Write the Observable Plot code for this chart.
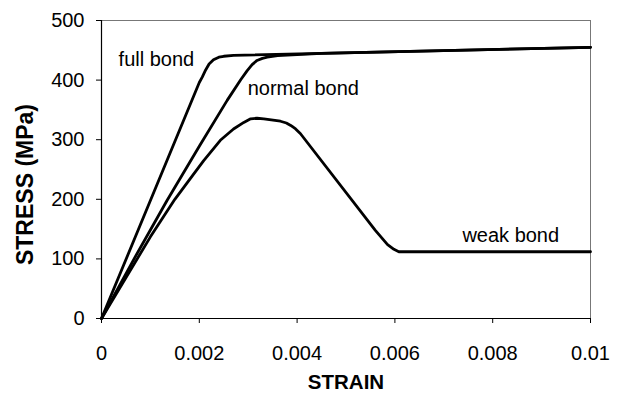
<!DOCTYPE html>
<html>
<head>
<meta charset="utf-8">
<script src="https://cdn.jsdelivr.net/npm/d3@7"></script>
<script src="https://cdn.jsdelivr.net/npm/@observablehq/plot@0.6"></script>
<style>
  html, body { margin: 0; padding: 0; background: #fff; }
  #chart { width: 622px; height: 394px; }
</style>
</head>
<body>
<div id="chart"></div>
<script>
// Series: strain values and stress values (MPa)
const fullStrain = [0, 0.002, 0.00206, 0.00213, 0.0022, 0.00229, 0.0024, 0.0025, 0.0027, 0.01];
const fullStress = [0, 396, 405, 417, 427, 434, 438.5, 440, 441.5, 455];

const normalStrain = [0, 0.0007, 0.00134, 0.002, 0.00257, 0.00285, 0.00298, 0.00308, 0.00318, 0.00329, 0.00339, 0.0036, 0.0045, 0.01];
const normalStress = [0, 105, 198, 289, 366, 401, 416, 426, 433, 436.5, 438.5, 441, 445, 455];

const weakStrain = [0, 0.001, 0.0015, 0.0018, 0.00209, 0.00243, 0.0027, 0.00291, 0.00305, 0.00318, 0.00332, 0.00366, 0.00378, 0.00387, 0.00397, 0.00407, 0.0056, 0.00585, 0.00598, 0.00608, 0.01];
const weakStress = [0, 137, 200, 233, 265, 299, 318, 329, 335, 336, 335, 331, 328, 324, 318, 310, 148, 124, 116, 112, 112];

const seriesNames = ["full bond", "normal bond", "weak bond"];
const labelStrain = [0.00035, 0.00299, 0.00738];
const labelStress = [435, 386, 139];

const xTicks = [0, 0.002, 0.004, 0.006, 0.008, 0.01];
const xTickLabels = ["0", "0.002", "0.004", "0.006", "0.008", "0.01"];
const yTicks = [0, 100, 200, 300, 400, 500];
const yTickLabels = ["0", "100", "200", "300", "400", "500"];

const xTitle = "STRAIN";
const yTitle = "STRESS (MPa)";

const table = [];
[[fullStrain, fullStress], [normalStrain, normalStress], [weakStrain, weakStress]].forEach(([xs, ys], i) => {
  xs.forEach((x, j) => table.push({bond: seriesNames[i], strain: x, stress: ys[j]}));
});
const labels = seriesNames.map((name, i) => ({name, strain: labelStrain[i], stress: labelStress[i]}));

const font = "'Liberation Sans', Arial, sans-serif";

const chart = Plot.plot({
  width: 622,
  height: 394,
  marginLeft: 101,
  marginRight: 32,
  marginTop: 20,
  marginBottom: 76,
  style: {fontFamily: font, fontSize: "20px", color: "#000", background: "#fff"},
  x: {domain: [0, 0.01]},
  y: {domain: [0, 500]},
  marks: [
    Plot.frame({stroke: "#777", strokeWidth: 1}),
    Plot.axisX({ticks: xTicks, tickFormat: (d, i) => xTickLabels[i], tickSize: 5, tickPadding: 22, label: null, fontSize: 20}),
    Plot.axisY({ticks: yTicks, tickFormat: (d, i) => yTickLabels[i], tickSize: 5, tickPadding: 12, label: null, fontSize: 20}),
    Plot.ruleX([0], {stroke: "#000", strokeWidth: 1.2}),
    Plot.ruleY([0], {stroke: "#000", strokeWidth: 1.2}),
    Plot.line(table, {x: "strain", y: "stress", z: "bond", curve: "linear", stroke: "#000", strokeWidth: 2.8, strokeLinejoin: "round"}),
    Plot.text(labels, {x: "strain", y: "stress", text: "name", textAnchor: "start", lineAnchor: "middle", fontSize: 20, fill: "#000"}),
    Plot.text([xTitle], {frameAnchor: "bottom", dy: 64, textAnchor: "middle", lineAnchor: "middle", fontWeight: "bold", fontSize: 20.5, fill: "#000"}),
    Plot.text([yTitle], {frameAnchor: "left", dx: -76, dy: 15, textAnchor: "middle", lineAnchor: "middle", rotate: -90, fontWeight: "bold", fontSize: 23, fill: "#000"})
  ]
});
document.getElementById("chart").appendChild(chart);
</script>
</body>
</html>
